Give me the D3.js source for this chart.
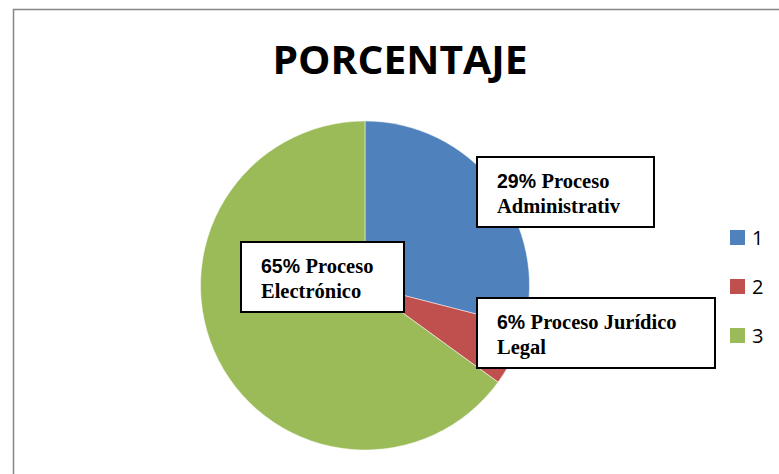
<!DOCTYPE html>
<html>
<head>
<meta charset="utf-8">
<script src="https://cdn.jsdelivr.net/npm/d3@7"></script>
<style>
  body { margin: 0; background: #fff; }
</style>
</head>
<body>
<div id="chartContainer"></div>
<script>
// chart data
var categories = ["1", "2", "3"];
var values = [29, 6, 65];
var pctLabels = ["29%", "6%", "65%"];
var nameLines = [["Proceso", "Administrativ"], ["Proceso Jurídico", "Legal"], ["Proceso", "Electrónico"]];
var colors = ["#4F81BD", "#C0504D", "#9BBB59"];

var width = 779, height = 474;

// label boxes (x, y, w, h) - placed by hand like the original
var boxes = [
    { x: 477, y: 157, w: 177, h: 70 },
    { x: 477, y: 298, w: 238, h: 70 },
    { x: 241, y: 242, w: 163, h: 70 }
];

const svg = d3.select("#chartContainer")
    .append("svg")
    .attr("width", width)
    .attr("height", height);

// outer frame
svg.append("rect")
    .attr("x", 13.5)
    .attr("y", 9.5)
    .attr("width", 800)
    .attr("height", 500)
    .attr("fill", "white")
    .attr("stroke", "#868686")
    .attr("stroke-width", 1.5);

svg.append("text")
    .attr("x", 400)
    .attr("y", 74)
    .attr("text-anchor", "middle")
    .attr("font-family", "'Open Sans', sans-serif")
    .attr("font-weight", "bold")
    .attr("font-size", 40)
    .attr("textLength", 255)
    .attr("lengthAdjust", "spacingAndGlyphs")
    .attr("fill", "#000")
    .text("PORCENTAJE");

var cx = 365, cy = 285.5, radius = 164.5;

let pie = d3.pie().sort(null).value(function (d) { return d; });
let arc = d3.arc().innerRadius(0).outerRadius(radius);

let g = svg.append("g")
    .attr("transform", `translate(${cx}, ${cy})`);

g.selectAll("path")
    .data(pie(values))
    .enter()
    .append("path")
    .attr("d", arc)
    .attr("fill", function (d, i) { return colors[i]; })
    .attr("stroke", "#fff")
    .attr("stroke-width", 0.5);

// data label boxes
boxes.forEach(function (b, i) {
    svg.append("rect")
        .attr("x", b.x)
        .attr("y", b.y)
        .attr("width", b.w)
        .attr("height", b.h)
        .attr("fill", "white")
        .attr("stroke", "#000")
        .attr("stroke-width", 2);

    let t = svg.append("text")
        .attr("x", b.x + 20)
        .attr("y", b.y + 31)
        .attr("font-weight", "bold")
        .attr("fill", "#000");
    t.append("tspan")
        .attr("font-family", "'Liberation Sans', Arial, sans-serif")
        .attr("font-size", 19.5)
        .text(pctLabels[i] + " ");
    t.append("tspan")
        .attr("font-family", "'Liberation Serif', 'Times New Roman', serif")
        .attr("font-size", 20.5)
        .text(nameLines[i][0]);

    svg.append("text")
        .attr("x", b.x + 20)
        .attr("y", b.y + 56)
        .attr("font-weight", "bold")
        .attr("font-family", "'Liberation Serif', 'Times New Roman', serif")
        .attr("font-size", 20.5)
        .attr("fill", "#000")
        .text(nameLines[i][1]);
});

// legend
let legend = svg.append("g");
categories.forEach(function (c, i) {
    legend.append("rect")
        .attr("x", 730)
        .attr("y", 230 + i * 49)
        .attr("width", 15)
        .attr("height", 15)
        .attr("fill", colors[i]);
    legend.append("text")
        .attr("x", 752)
        .attr("y", 245 + i * 49)
        .attr("font-family", "'Open Sans', sans-serif")
        .attr("font-size", 20)
        .attr("fill", "#000")
        .text(c);
});
</script>
</body>
</html>
